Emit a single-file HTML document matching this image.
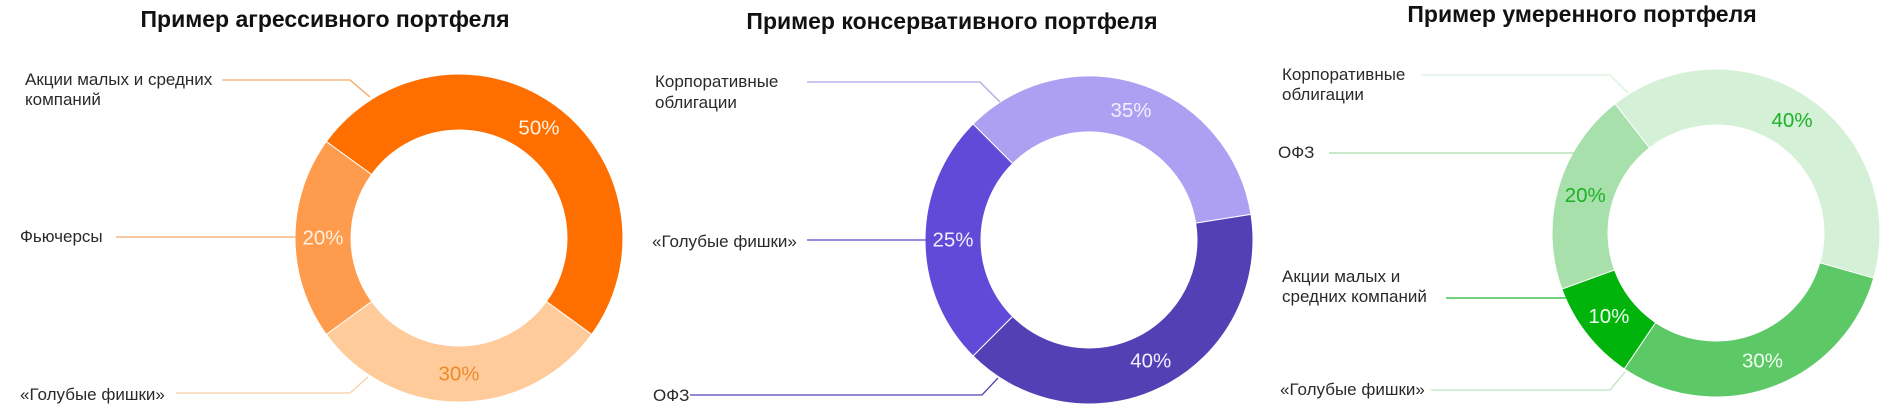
<!DOCTYPE html>
<html><head><meta charset="utf-8">
<style>
html,body{margin:0;padding:0;background:#fff;}
svg{display:block;font-family:"Liberation Sans","DejaVu Sans",sans-serif;}
.t{font-size:23px;font-weight:bold;fill:#111;text-anchor:middle;}
.l{font-size:17px;fill:#2a2a2a;}
.p{font-size:20.5px;text-anchor:middle;dominant-baseline:central;}
</style></head>
<body>
<svg id="c" width="1900" height="413" viewBox="0 0 1900 413">
  <text class="t" x="325" y="27">Пример агрессивного портфеля</text>
  <text class="t" x="952" y="29">Пример консервативного портфеля</text>
  <text class="t" x="1582" y="22">Пример умеренного портфеля</text>

  <g>
    <text class="l" x="25" y="85">Акции малых и средних<tspan x="25" dy="20">компаний</tspan></text>
    <polyline points="222,80 350,80 370,97" fill="none" stroke="#F4A866" stroke-width="1.3"/>
    <text class="l" x="20" y="242">Фьючерсы</text>
    <polyline points="116,237 296,237" fill="none" stroke="#F4A866" stroke-width="1.3"/>
    <text class="l" x="20" y="400">«Голубые фишки»</text>
    <polyline points="176,393 350,393 368,377" fill="none" stroke="#F8CFA6" stroke-width="1.3"/>
  </g>
  <g>
    <text class="l" x="655" y="87">Корпоративные<tspan x="655" dy="21">облигации</tspan></text>
    <polyline points="807,82 980,82 1000,102" fill="none" stroke="#B0A6E6" stroke-width="1.3"/>
    <text class="l" x="652" y="247">«Голубые фишки»</text>
    <polyline points="807,240 928,240" fill="none" stroke="#5E48CF" stroke-width="1.3"/>
    <text class="l" x="653" y="401">ОФЗ</text>
    <polyline points="690,395 982,395 998,378" fill="none" stroke="#5440B5" stroke-width="1.3"/>
  </g>
  <g>
    <text class="l" x="1282" y="80">Корпоративные<tspan x="1282" dy="20">облигации</tspan></text>
    <polyline points="1421,75 1610,75 1628,93" fill="none" stroke="#DDEFDF" stroke-width="1.3"/>
    <text class="l" x="1278" y="158">ОФЗ</text>
    <polyline points="1329,153 1576,153" fill="none" stroke="#A6DDAA" stroke-width="1.3"/>
    <text class="l" x="1282" y="282">Акции малых и<tspan x="1282" dy="20">средних компаний</tspan></text>
    <polyline points="1446,298 1566,298" fill="none" stroke="#22B42C" stroke-width="1.3"/>
    <text class="l" x="1280" y="395">«Голубые фишки»</text>
    <polyline points="1431,390 1610,390 1625,372" fill="none" stroke="#BFE3C2" stroke-width="1.3"/>
  </g>
</svg>
<script>
// Chart data
const aggressiveValues = [50, 30, 20];
const aggressiveNames = ["small-mid-caps", "blue-chips", "futures"];
const conservativeValues = [35, 40, 25];
const conservativeNames = ["corporate-bonds", "ofz", "blue-chips"];
const moderateValues = [40, 30, 10, 20];
const moderateNames = ["corporate-bonds", "blue-chips", "small-mid-caps", "ofz"];

const charts = [
  {id:"aggressive", values:aggressiveValues, names:aggressiveNames, cx:459, cy:238, start:-54,
   fills:["#FF6F00","#FFCB9A","#FF9B4C"], text:["#FFF1E0","#EE8A2C","#FFF1E0"]},
  {id:"conservative", values:conservativeValues, names:conservativeNames, cx:1089, cy:240, start:-45,
   fills:["#ADA0F3","#5440B5","#624AD9"], text:["#F2EFFF","#F2EFFF","#F2EFFF"]},
  {id:"moderate", values:moderateValues, names:moderateNames, cx:1716, cy:233, start:-38,
   fills:["#D4F0D6","#5CC866","#00B40C","#A7E0AB"], text:["#1DB128","#EFFFF0","#EFFFF0","#1DB128"]}
];
const R_OUT = 164, R_IN = 108, R_LBL = 136;
const NS = "http://www.w3.org/2000/svg";
const svg = document.getElementById("c");
function pt(cx, cy, r, deg){ const a = deg*Math.PI/180; return [cx + r*Math.sin(a), cy - r*Math.cos(a)]; }
charts.forEach(ch => {
  const g = document.createElementNS(NS, "g");
  
  
  svg.insertBefore(g, svg.firstChild);
  const total = ch.values.reduce((a,b)=>a+b,0);
  let ang = ch.start;
  ch.values.forEach((v,i) => {
    const sweep = v/total*360, a0 = ang, a1 = ang + sweep;
    const large = sweep > 180 ? 1 : 0;
    const p0 = pt(ch.cx,ch.cy,R_OUT,a0), p1 = pt(ch.cx,ch.cy,R_OUT,a1);
    const q1 = pt(ch.cx,ch.cy,R_IN,a1), q0 = pt(ch.cx,ch.cy,R_IN,a0);
    const path = document.createElementNS(NS, "path");
    path.setAttribute("d", `M${p0[0]},${p0[1]} A${R_OUT},${R_OUT} 0 ${large} 1 ${p1[0]},${p1[1]} L${q1[0]},${q1[1]} A${R_IN},${R_IN} 0 ${large} 0 ${q0[0]},${q0[1]} Z`);
    path.setAttribute("fill", ch.fills[i]);
    path.setAttribute("stroke", "#ffffff");
    path.setAttribute("stroke-width", "1");
    
    
    g.appendChild(path);
    const lp = pt(ch.cx,ch.cy,R_LBL,(a0+a1)/2);
    const t = document.createElementNS(NS, "text");
    t.setAttribute("class","p");
    t.setAttribute("x", lp[0]); t.setAttribute("y", lp[1]);
    t.setAttribute("fill", ch.text[i]);
    t.textContent = v + "%";
    
    
    g.appendChild(t);
    ang = a1;
  });
});
</script>
</body></html>
